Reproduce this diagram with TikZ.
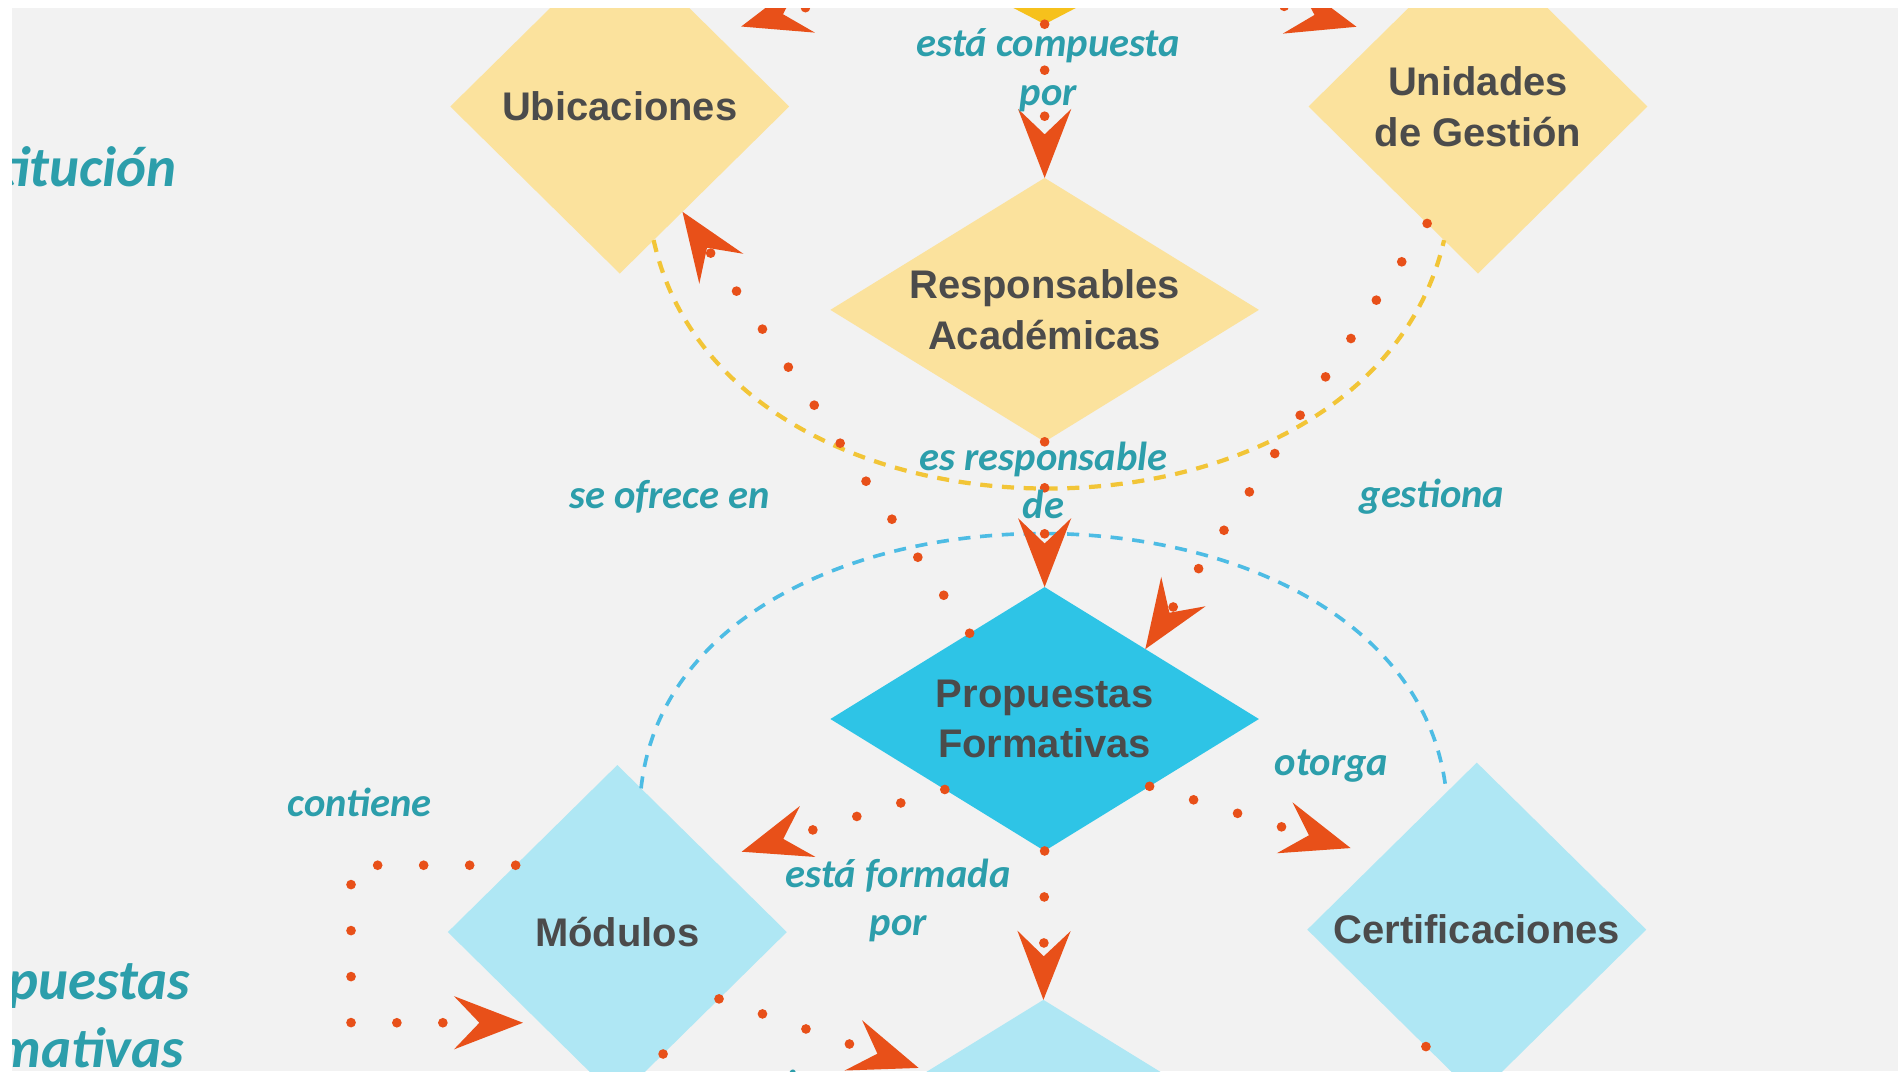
\documentclass[tikz,border=0pt]{standalone}
\usepackage{fontspec}
\setmainfont{Liberation Sans}
\newfontfamily\lblfont{Carlito}
\usetikzlibrary{shapes.geometric,arrows.meta,calc}
\definecolor{bgc}{HTML}{F2F2F2}
\definecolor{yel}{HTML}{FBE29D}
\definecolor{gold}{HTML}{F6C11C}
\definecolor{cyandk}{HTML}{2EC4E6}
\definecolor{cyanlt}{HTML}{AFE7F4}
\definecolor{orng}{HTML}{E85019}
\definecolor{lblc}{HTML}{2C9EAB}
\definecolor{txtc}{HTML}{4B4B4B}
\definecolor{arcyel}{HTML}{F2C537}
\definecolor{arcblu}{HTML}{4DBCE4}
\begin{document}
\begin{tikzpicture}[x=1pt,y=1pt,
  dia/.style={diamond, inner sep=0pt, outer sep=0pt, draw=none},
  bigdia/.style={dia, minimum width=280pt, minimum height=276pt},
  widedia/.style={dia, minimum width=354pt, minimum height=218pt},
  ntext/.style={font=\bfseries\fontsize{33}{42}\selectfont, text=txtc, align=center, inner sep=0pt},
  lbl/.style={font=\lblfont\bfseries\itshape\fontsize{33.5}{40}\selectfont, text=lblc, align=center, inner sep=0pt},
  side/.style={font=\lblfont\bfseries\itshape\fontsize{47}{56}\selectfont, text=lblc, inner sep=0pt},
  conn/.style={draw=orng, line width=8pt, line cap=round, dash pattern=on 0pt off 38pt,
    -{Stealth[length=57pt,width=44pt,inset=21pt,line width=0pt]}},
  dotonly/.style={draw=orng, line width=8pt, line cap=round, dash pattern=on 0pt off 38pt},
  arcy/.style={draw=arcyel, line width=3.5pt, dash pattern=on 10pt off 8pt},
  arcb/.style={draw=arcblu, line width=3pt, dash pattern=on 10pt off 8pt},
]
\fill[white] (0,0) rectangle (1568,-885);
\useasboundingbox (0,0) rectangle (1568,-885);
\fill[bgc] (10,-7) rectangle (1568,-885);
\begin{scope}
\clip (10,-7) rectangle (1568,-885);

% diamonds
\node[dia, minimum width=420pt, minimum height=218pt, fill=gold] (inst) at (863,89) {};
\node[bigdia, fill=yel] (ubi) at (512,-88) {};
\node[bigdia, fill=yel] (uni) at (1221,-88) {};
\node[widedia, fill=yel] (resp) at (863,-256) {};
\node[widedia, fill=cyandk] (prop) at (863,-594) {};
\node[bigdia, fill=cyanlt] (mod) at (510,-770) {};
\node[bigdia, fill=cyanlt] (cert) at (1220,-768) {};
\node[widedia, fill=cyanlt] (bot) at (862,-935) {};

% dashed arcs
\draw[arcy] ($(ubi.south)!0.2!(ubi.east)$) .. controls (600,-472) and (1130,-472) .. ($(uni.south)!0.2!(uni.west)$);
\draw[arcb] ($(mod.north)!0.14!(mod.east)$) .. controls (560,-370) and (1165,-370) .. ($(cert.north)!0.18!(cert.west)$);

% connectors
\coordinate (offA) at (540,-1000);
\coordinate (offB) at (1160,-1000);
\draw[conn, shorten >=22pt] ($(inst.south)!0.42!(inst.west)$) -- ($(ubi.north)!0.566!(ubi.east)$);
\draw[conn, shorten >=22pt] ($(inst.south)!0.42!(inst.east)$) -- ($(uni.north)!0.566!(uni.west)$);
\draw[conn] (inst.south) -- (resp.north);
\draw[conn] (resp.south) -- (prop.north);
\draw[conn] ($(prop.north)!0.35!(prop.west)$) -- ($(ubi.south)!0.37!(ubi.east)$);
\draw[conn] ($(uni.south)!0.30!(uni.west)$) -- ($(prop.north)!0.47!(prop.east)$);
\draw[conn, shorten >=24pt] ($(prop.south)!0.466!(prop.west)$) -- ($(mod.north)!0.57!(mod.east)$);
\draw[conn] (prop.south) -- (bot.north);
\draw[conn, shorten >=26pt] ($(prop.south)!0.49!(prop.east)$) -- ($(cert.north)!0.567!(cert.west)$);
\draw[conn, shorten >=14pt] ($(mod.north)!0.6!(mod.west)$) -- ++(-136,0) |- ($(mod.west)!0.543!(mod.south)$);
\draw[conn, shorten >=8pt] ($(mod.east)!0.4!(mod.south)$) -- ($(bot.north)!0.54!(bot.west)$);
\draw[dotonly] ($(mod.east)!0.73!(mod.south)$) -- (offA);
\draw[dotonly] ($(cert.west)!0.7!(cert.south)$) -- (offB);

% node texts
\node[ntext] (ubit) at (ubi.center) {Ubicaciones};
\node[ntext] (unit) at (uni.center) {Unidades\\de Gestión};
\node[ntext] (respt) at (resp.center) {Responsables\\Académicas};
\node[ntext] (propt) at (prop.center) {Propuestas\\Formativas};
\node[ntext] (modt) at (mod.center) {Módulos};
\node[ntext] (certt) at (cert.center) {Certificaciones};

% connector labels
\node[lbl] (l1) at (866,-58) {está compuesta\\por};
\node[lbl] (l2) at (862,-397) {es responsable\\de};
\node[lbl] (l3) at (553,-410) {se ofrece en};
\node[lbl] (l4) at (1183,-410) {gestiona};
\node[lbl] (l5) at (1100,-633) {otorga};
\node[lbl] (l6) at (297,-663) {contiene};
\node[lbl] (l7) at (742,-744) {está formada\\por};
\node[lbl] (l8) at (648,-896) {contiene};

% side titles
\node[side, anchor=base east] (s1) at (146,-154) {Institución};
\node[side, anchor=base east] (s2) at (157,-826) {Propuestas};
\node[side, anchor=base east] (s3) at (152,-882) {Formativas};
\end{scope}
\end{tikzpicture}
\end{document}
